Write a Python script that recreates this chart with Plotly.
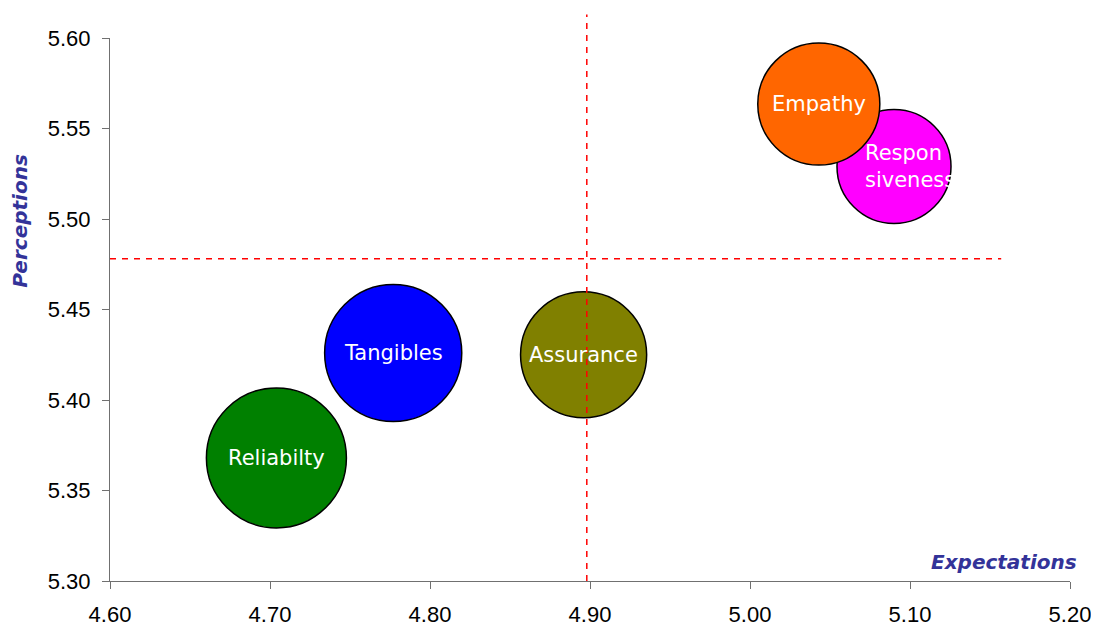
import plotly.graph_objects as go

# ---- data ----
categories = ["Reliabilty", "Tangibles", "Assurance", "Responsiveness", "Empathy"]
labels = ["Reliabilty", "Tangibles", "Assurance", "Respon<br>siveness", "Empathy"]
expectations = [4.704, 4.777, 4.896, 5.090, 5.043]
perceptions = [5.368, 5.426, 5.425, 5.529, 5.5635]
bubble_size = [19.6, 18.8, 15.9, 13.0, 14.9]
colors = ["#008000", "#0000FF", "#808000", "#FF00FF", "#FF6600"]

vline_x = 4.898          # mean expectations reference
vline_y_range = [5.30, 5.613]
hline_y = 5.478          # mean perceptions reference
hline_x_range = [4.60, 5.157]

x_ticks = [4.60, 4.70, 4.80, 4.90, 5.00, 5.10, 5.20]
y_ticks = [5.30, 5.35, 5.40, 5.45, 5.50, 5.55, 5.60]

fig = go.Figure()

for name, x, y, s, c in zip(categories, expectations, perceptions, bubble_size, colors):
    fig.add_trace(go.Scatter(
        x=[x], y=[y], mode="markers", name=name,
        marker=dict(size=[s], sizemode="area", sizeref=0.002, color=c,
                    opacity=1, line=dict(color="black", width=1.5)),
        cliponaxis=False, hoverinfo="name",
    ))

# bubble labels (multi-line label is left aligned and nudged right, as in the original)
for lab, x, y in zip(labels, expectations, perceptions):
    multi = "<br>" in lab
    fig.add_annotation(text=lab, x=x, y=y, xref="x", yref="y", showarrow=False,
                       xanchor="center", yanchor="middle",
                       align="left" if multi else "center",
                       xshift=16 if multi else 0,
                       font=dict(family="DejaVu Sans", size=21, color="white"))

ymin, ymax = y_ticks[0], y_ticks[-1]
fig.add_shape(type="line", xref="x", yref="y domain",
              x0=vline_x, x1=vline_x,
              y0=(vline_y_range[0] - ymin) / (ymax - ymin),
              y1=(vline_y_range[1] - ymin) / (ymax - ymin),
              line=dict(color="red", width=1.5, dash="6px,6px"), layer="above")
fig.add_shape(type="line", xref="x", yref="y",
              x0=hline_x_range[0], x1=hline_x_range[1], y0=hline_y, y1=hline_y,
              line=dict(color="red", width=1.5, dash="6px,6px"), layer="above")

fig.add_annotation(text="<b><i>Expectations</i></b>", xref="paper", yref="paper",
                   x=0.931, y=0.035, xanchor="center", yanchor="middle", showarrow=False,
                   font=dict(family="DejaVu Sans", size=20, color="#333399"))
fig.add_annotation(text="<b><i>Perceptions</i></b>", xref="paper", yref="paper",
                   x=-0.094, y=0.663, xanchor="center", yanchor="middle", showarrow=False,
                   textangle=-90,
                   font=dict(family="DejaVu Sans", size=20, color="#333399"))

axis_common = dict(showgrid=False, zeroline=False, showline=True, linecolor="#707070",
                   linewidth=1, ticks="outside", ticklen=7, tickcolor="#707070",
                   tickfont=dict(family="Liberation Sans, Arial", size=22, color="black"),
                   tickformat=".2f", automargin=False)

fig.update_xaxes(range=[x_ticks[0], x_ticks[-1]], tickvals=x_ticks, ticklabelstandoff=7, **axis_common)
fig.update_yaxes(range=[ymin, ymax], tickvals=y_ticks, ticklabelstandoff=7, **axis_common)

fig.update_layout(
    width=1091, height=618,
    margin=dict(l=102, r=29, t=30, b=45),
    plot_bgcolor="white", paper_bgcolor="white",
    showlegend=False,
)

fig.write_html("out.html")
